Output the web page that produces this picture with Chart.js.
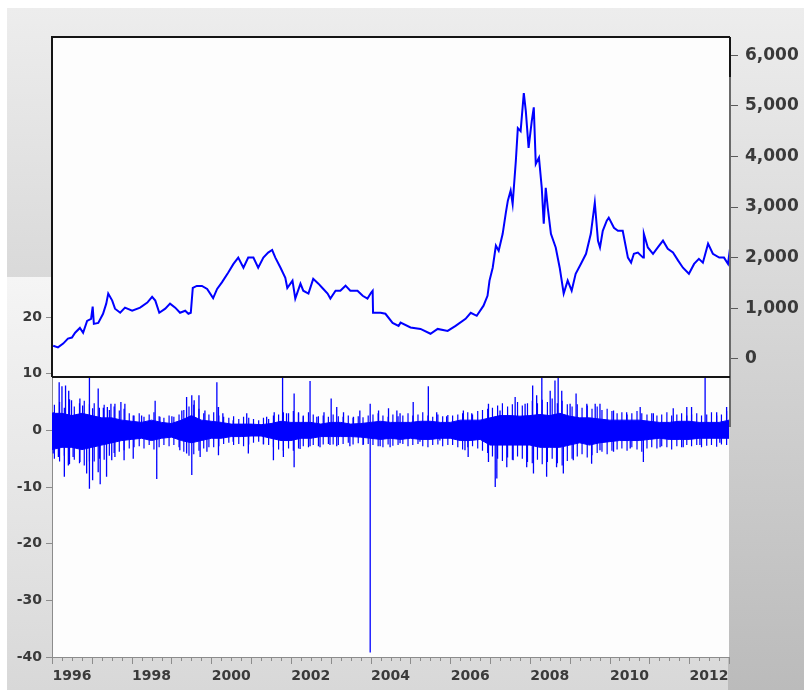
<!DOCTYPE html>
<html lang="en">
<head>
<meta charset="utf-8">
<title>Index level and daily returns</title>
<script src="https://cdn.jsdelivr.net/npm/chart.js@4.4.1/dist/chart.umd.min.js"></script>
<style>
    html, body { margin: 0; padding: 0; background: #ffffff; }
    body { position: relative; width: 804px; height: 690px; overflow: hidden; }
    .frame-back { position: absolute; left: 7px; top: 8px; width: 797px; height: 682px; background: linear-gradient(#ededed, #bbbbbb); }
    .frame-lower { position: absolute; left: 7px; top: 277px; width: 721px; height: 413px; background: linear-gradient(#f5f5f5, #d8d8d8); }
    canvas { position: absolute; }
    #returnsCanvas { left: 7px; top: 277px; }
    #priceCanvas { left: 7px; top: 8px; }
</style>
</head>
<body>
<div class="frame-back"></div>
<div class="frame-lower"></div>
<canvas id="returnsCanvas" width="723" height="413"></canvas>
<canvas id="priceCanvas" width="797" height="422"></canvas>
<script>
// index level (upper panel, right axis)
const priceYears = [
    1996.03, 1996.15, 1996.28, 1996.40, 1996.50, 1996.58, 1996.70, 1996.78, 1996.88, 1996.98,
    1997.02, 1997.05, 1997.16, 1997.28, 1997.36, 1997.41, 1997.51, 1997.58, 1997.71, 1997.83,
    1998.01, 1998.21, 1998.39, 1998.51, 1998.59, 1998.69, 1998.84, 1998.96, 1999.09, 1999.21,
    1999.34, 1999.42, 1999.48, 1999.53, 1999.63, 1999.76, 1999.89, 2000.04, 2000.14, 2000.26,
    2000.42, 2000.55, 2000.67, 2000.80, 2000.92, 2001.05, 2001.17, 2001.30, 2001.42, 2001.52,
    2001.60, 2001.73, 2001.85, 2001.90, 2002.03, 2002.10, 2002.23, 2002.30, 2002.43, 2002.55,
    2002.68, 2002.78, 2002.91, 2002.98, 2003.11, 2003.23, 2003.36, 2003.48, 2003.66, 2003.79,
    2003.91, 2004.00, 2004.04, 2004.05, 2004.24, 2004.36, 2004.54, 2004.69, 2004.74, 2004.99,
    2005.24, 2005.49, 2005.67, 2005.92, 2006.12, 2006.37, 2006.50, 2006.65, 2006.82, 2006.92,
    2006.97, 2007.05, 2007.13, 2007.20, 2007.30, 2007.38, 2007.43, 2007.50, 2007.55, 2007.63,
    2007.68, 2007.75, 2007.83, 2007.88, 2007.95, 2008.03, 2008.08, 2008.13, 2008.21, 2008.28,
    2008.33, 2008.38, 2008.43, 2008.51, 2008.63, 2008.73, 2008.83, 2008.93, 2009.03, 2009.13,
    2009.26, 2009.39, 2009.51, 2009.61, 2009.69, 2009.74, 2009.81, 2009.91, 2009.96, 2010.09,
    2010.19, 2010.31, 2010.44, 2010.52, 2010.59, 2010.69, 2010.82, 2010.84, 2010.94, 2011.07,
    2011.19, 2011.32, 2011.44, 2011.57, 2011.70, 2011.82, 2011.97, 2012.10, 2012.22, 2012.32,
    2012.45, 2012.57, 2012.73, 2012.85, 2012.95, 2013.00
];
const priceValues = [
    257, 225, 300, 400, 420, 515, 610, 515, 750, 790,
    1030, 690, 710, 890, 1090, 1290, 1150, 990, 910, 1010,
    950, 1010, 1110, 1225, 1150, 910, 990, 1090, 1010, 910,
    950, 890, 910, 1400, 1440, 1440, 1380, 1200, 1380, 1510,
    1705, 1875, 2000, 1800, 2000, 2000, 1800, 2000, 2100, 2150,
    2000, 1800, 1600, 1400, 1545, 1190, 1485, 1345, 1290, 1580,
    1485, 1400, 1290, 1190, 1345, 1345, 1445, 1345, 1345, 1245,
    1190, 1305, 1345, 910, 910, 890, 710, 650, 715, 620,
    590, 495, 590, 550, 650, 790, 910, 850, 1050, 1245,
    1545, 1800, 2235, 2135, 2470, 2890, 3125, 3325, 3060, 3910,
    4560, 4500, 5250, 4900, 4170, 4700, 4970, 3850, 3975, 3380,
    2670, 3380, 2990, 2470, 2200, 1800, 1290, 1545, 1345, 1680,
    1875, 2075, 2470, 3085, 2330, 2200, 2530, 2730, 2790, 2590,
    2530, 2530, 2000, 1900, 2075, 2100, 2000, 2470, 2200, 2075,
    2200, 2335, 2175, 2100, 1940, 1800, 1680, 1875, 1975, 1900,
    2275, 2075, 2000, 2000, 1875, 2175
];
const priceTicks = [0, 1000, 2000, 3000, 4000, 5000, 6000];

// daily returns (lower panel, left axis): dense core band per quarter
const bandYears = [
    1996.00, 1996.25, 1996.50, 1996.75, 1997.00, 1997.25, 1997.50, 1997.75,
    1998.00, 1998.25, 1998.50, 1998.75, 1999.00, 1999.25, 1999.50, 1999.75,
    2000.00, 2000.25, 2000.50, 2000.75, 2001.00, 2001.25, 2001.50, 2001.75,
    2002.00, 2002.25, 2002.50, 2002.75, 2003.00, 2003.25, 2003.50, 2003.75,
    2004.00, 2004.25, 2004.50, 2004.75, 2005.00, 2005.25, 2005.50, 2005.75,
    2006.00, 2006.25, 2006.50, 2006.75, 2007.00, 2007.25, 2007.50, 2007.75,
    2008.00, 2008.25, 2008.50, 2008.75, 2009.00, 2009.25, 2009.50, 2009.75,
    2010.00, 2010.25, 2010.50, 2010.75, 2011.00, 2011.25, 2011.50, 2011.75,
    2012.00, 2012.25, 2012.50, 2012.75, 2013.00
];
const bandUpper = [
    3.0, 3.0, 2.6, 3.0, 2.6, 2.2, 2.2, 1.8,
    1.6, 1.4, 1.8, 1.4, 1.2, 1.8, 2.6, 1.8,
    1.6, 1.4, 1.1, 1.1, 1.1, 1.0, 1.2, 1.6,
    1.4, 1.4, 1.4, 1.1, 1.4, 1.4, 1.1, 1.2,
    1.4, 1.6, 1.4, 1.4, 1.4, 1.6, 1.6, 1.4,
    1.4, 1.8, 1.8, 1.8, 2.2, 2.6, 2.6, 2.5,
    2.6, 2.8, 2.6, 3.0, 2.5, 2.2, 2.2, 2.0,
    1.8, 1.8, 1.8, 1.8, 1.6, 1.4, 1.4, 1.6,
    1.6, 1.4, 1.4, 1.4, 1.8
];
const bandLower = [
    -3.4, -3.0, -3.0, -3.4, -3.0, -2.6, -2.2, -1.8,
    -1.6, -1.4, -1.8, -1.4, -1.2, -1.8, -2.2, -1.8,
    -1.4, -1.4, -1.1, -1.1, -1.0, -1.0, -1.4, -1.8,
    -1.8, -1.4, -1.4, -1.1, -1.1, -1.1, -1.1, -1.2,
    -1.4, -1.6, -1.4, -1.6, -1.4, -1.6, -1.6, -1.4,
    -1.4, -1.8, -1.8, -1.6, -2.6, -2.6, -2.6, -2.6,
    -2.6, -3.0, -3.0, -3.0, -2.6, -2.2, -2.6, -2.2,
    -2.0, -1.8, -1.8, -1.8, -1.6, -1.4, -1.6, -1.6,
    -1.6, -1.4, -1.4, -1.4, -1.4
];

// hairy fringe of ordinary days round the band, one mark per eighth of a year
const fringeYears = [
    1996.06, 1996.19, 1996.31, 1996.44, 1996.56, 1996.69, 1996.81, 1996.94,
    1997.06, 1997.19, 1997.31, 1997.44, 1997.56, 1997.69, 1997.81, 1997.94,
    1998.06, 1998.19, 1998.31, 1998.44, 1998.56, 1998.69, 1998.81, 1998.94,
    1999.06, 1999.19, 1999.31, 1999.44, 1999.56, 1999.69, 1999.81, 1999.94,
    2000.06, 2000.19, 2000.31, 2000.44, 2000.56, 2000.69, 2000.81, 2000.94,
    2001.06, 2001.19, 2001.31, 2001.44, 2001.56, 2001.69, 2001.81, 2001.94,
    2002.06, 2002.19, 2002.31, 2002.44, 2002.56, 2002.69, 2002.81, 2002.94,
    2003.06, 2003.19, 2003.31, 2003.44, 2003.56, 2003.69, 2003.81, 2003.94,
    2004.06, 2004.19, 2004.31, 2004.44, 2004.56, 2004.69, 2004.81, 2004.94,
    2005.06, 2005.19, 2005.31, 2005.44, 2005.56, 2005.69, 2005.81, 2005.94,
    2006.06, 2006.19, 2006.31, 2006.44, 2006.56, 2006.69, 2006.81, 2006.94,
    2007.06, 2007.19, 2007.31, 2007.44, 2007.56, 2007.69, 2007.81, 2007.94,
    2008.06, 2008.19, 2008.31, 2008.44, 2008.56, 2008.69, 2008.81, 2008.94,
    2009.06, 2009.19, 2009.31, 2009.44, 2009.56, 2009.69, 2009.81, 2009.94,
    2010.06, 2010.19, 2010.31, 2010.44, 2010.56, 2010.69, 2010.81, 2010.94,
    2011.06, 2011.19, 2011.31, 2011.44, 2011.56, 2011.69, 2011.81, 2011.94,
    2012.06, 2012.19, 2012.31, 2012.44, 2012.56, 2012.69, 2012.81, 2012.94
];
const fringeHigh = [
    4.5, 5.0, 4.0, 5.5, 4.2, 4.8, 5.2, 4.6,
    4.8, 4.0, 4.5, 3.6, 4.2, 3.5, 3.8, 3.0,
    2.6, 3.0, 2.4, 2.8, 3.2, 2.5, 2.2, 2.6,
    2.4, 2.8, 3.6, 4.2, 4.5, 3.8, 3.0, 2.8,
    3.2, 2.6, 2.4, 2.2, 2.5, 2.0, 2.4, 2.2,
    2.0, 1.8, 2.2, 2.0, 2.6, 2.8, 3.2, 3.0,
    3.4, 3.0, 2.6, 3.2, 2.8, 2.5, 2.6, 2.4,
    2.8, 2.5, 2.4, 2.6, 2.2, 2.5, 2.3, 2.6,
    2.8, 3.0, 2.6, 2.4, 2.8, 2.5, 2.6, 3.0,
    2.6, 2.8, 3.2, 2.6, 2.4, 2.8, 2.5, 2.7,
    2.6, 2.8, 3.0, 3.2, 2.8, 3.4, 3.6, 3.8,
    4.0, 4.4, 4.8, 4.2, 4.6, 5.0, 4.4, 4.8,
    5.2, 4.8, 5.4, 5.0, 5.6, 4.8, 5.2, 4.6,
    4.2, 4.6, 4.0, 4.4, 3.8, 4.2, 3.6, 3.8,
    3.4, 3.0, 3.2, 2.8, 3.0, 3.4, 3.0, 2.8,
    3.0, 2.6, 2.8, 3.2, 2.6, 2.8, 3.0, 2.6,
    2.8, 3.0, 2.6, 2.8, 3.2, 2.6, 2.8, 3.4
];
const fringeLow = [
    -5.0, -5.5, -4.5, -6.0, -5.2, -5.8, -6.2, -5.5,
    -5.5, -5.0, -5.2, -4.5, -4.0, -3.8, -3.5, -3.2,
    -3.0, -2.8, -3.2, -2.6, -3.4, -3.0, -2.6, -2.8,
    -2.6, -3.0, -3.8, -4.5, -4.2, -3.6, -3.2, -3.0,
    -3.0, -2.8, -2.4, -2.2, -2.6, -2.4, -2.8, -2.5,
    -2.2, -2.0, -2.4, -2.6, -3.0, -3.4, -3.6, -3.2,
    -3.6, -3.2, -2.8, -3.0, -2.6, -2.8, -2.5, -2.4,
    -2.5, -2.6, -2.4, -2.2, -2.5, -2.3, -2.6, -2.4,
    -2.6, -2.8, -3.0, -2.5, -2.7, -2.6, -2.4, -2.8,
    -2.6, -2.4, -2.8, -3.0, -2.6, -2.5, -2.8, -2.6,
    -2.6, -3.0, -3.4, -3.0, -2.8, -3.2, -3.6, -4.0,
    -4.6, -5.0, -5.4, -4.8, -5.2, -4.6, -5.0, -5.6,
    -5.8, -5.2, -6.0, -5.6, -5.0, -5.8, -6.2, -5.4,
    -5.0, -4.6, -4.2, -4.8, -4.4, -4.0, -3.8, -4.2,
    -3.6, -3.4, -3.2, -3.6, -3.0, -3.4, -3.8, -3.2,
    -3.0, -3.2, -2.8, -3.0, -3.4, -2.8, -3.0, -2.6,
    -2.8, -2.6, -3.0, -2.7, -2.6, -2.9, -2.5, -2.6
];

// single large days sticking out of the band
const upSpikeYears = [
    1996.03, 1996.18, 1996.25, 1996.34, 1996.42, 1996.49, 1996.70, 1996.77, 1996.94, 1997.02,
    1997.16, 1997.29, 1997.39, 1997.48, 1997.58, 1997.73, 1997.83, 1998.04, 1998.25, 1998.59,
    1998.71, 1999.01, 1999.26, 1999.38, 1999.51, 1999.57, 1999.69, 1999.84, 2000.14, 2000.18,
    2000.29, 2000.55, 2000.89, 2001.39, 2001.58, 2001.79, 2001.89, 2002.08, 2002.19, 2002.31,
    2002.48, 2002.65, 2002.83, 2003.01, 2003.15, 2003.32, 2003.57, 2003.73, 2003.99, 2004.20,
    2004.45, 2004.66, 2004.74, 2005.07, 2005.45, 2005.66, 2005.91, 2006.33, 2006.54, 2006.96,
    2007.25, 2007.63, 2007.88, 2008.07, 2008.17, 2008.30, 2008.51, 2008.63, 2008.71, 2008.80,
    2009.01, 2009.16, 2009.43, 2009.64, 2009.76, 2010.10, 2010.43, 2010.77, 2011.10, 2011.60,
    2011.94, 2012.06, 2012.40, 2012.69, 2012.94
];
const upSpikeValues = [
    3.2, 8.5, 7.8, 7.9, 7.0, 5.3, 5.6, 4.4, 9.8, 3.9,
    7.4, 4.0, 4.1, 4.7, 4.7, 5.0, 4.7, 2.6, 2.6, 5.2,
    2.4, 2.5, 3.5, 5.9, 6.2, 5.3, 6.2, 3.5, 8.5, 4.1,
    3.0, 1.8, 3.0, 2.4, 3.2, 9.8, 3.0, 6.5, 3.2, 2.5,
    8.7, 2.4, 3.2, 5.6, 4.1, 3.2, 2.4, 3.5, 4.7, 3.5,
    3.9, 3.5, 3.0, 5.0, 7.8, 3.2, 2.5, 3.5, 3.0, 4.7,
    3.5, 5.9, 4.7, 7.9, 6.2, 9.8, 7.0, 8.8, 9.8, 7.0,
    4.7, 6.5, 4.7, 4.7, 4.7, 3.5, 3.2, 4.1, 3.0, 3.9,
    4.1, 4.1, 9.8, 3.2, 4.1
];
const downSpikeYears = [
    1996.03, 1996.16, 1996.31, 1996.41, 1996.53, 1996.70, 1996.87, 1996.94, 1997.02, 1997.16,
    1997.21, 1997.37, 1997.50, 1997.58, 1997.81, 1998.04, 1998.63, 1999.21, 1999.38, 1999.51,
    1999.72, 1999.89, 2000.18, 2000.55, 2000.93, 2001.31, 2001.56, 2001.81, 2002.08, 2002.23,
    2002.48, 2002.73, 2002.98, 2003.15, 2003.48, 2003.82, 2003.99, 2004.24, 2004.49, 2004.74,
    2005.24, 2005.74, 2006.37, 2006.45, 2006.96, 2007.13, 2007.17, 2007.42, 2007.58, 2007.92,
    2008.09, 2008.42, 2008.67, 2008.84, 2009.09, 2009.55, 2009.76, 2010.10, 2010.52, 2010.85,
    2011.27, 2011.85, 2012.27, 2012.77
];
const downSpikeValues = [
    -4.1, -4.7, -8.2, -6.2, -4.7, -5.6, -7.6, -10.3, -8.8, -7.4,
    -9.5, -8.2, -5.3, -4.7, -5.3, -5.0, -8.6, -3.5, -4.1, -7.9,
    -4.7, -3.8, -4.4, -2.0, -4.1, -2.5, -5.3, -4.7, -6.5, -3.3,
    -2.8, -3.0, -2.6, -2.8, -2.8, -2.5, -39.2, -2.8, -3.0, -2.3,
    -2.0, -1.8, -3.5, -4.7, -5.6, -10.0, -8.5, -6.5, -5.3, -6.5,
    -7.6, -8.2, -6.5, -7.6, -5.3, -5.9, -3.5, -3.8, -3.2, -5.6,
    -3.0, -3.0, -2.6, -2.2
];
const returnTicks = [-40, -30, -20, -10, 0, 10, 20];
const yearLabels = [1996, 1998, 2000, 2002, 2004, 2006, 2008, 2010, 2012];

const firstYear = 1996;
const lastYear = 2013;
const seriesBlue = "#0000ff";
const axisGray = "#8c8c8c";
const labelColor = "#3a3a3a";
const labelFamily = "'DejaVu Sans', 'Liberation Sans', sans-serif";

function toPoints(xs, ys) {
    return xs.map((x, i) => ({ x, y: ys[i] }));
}

// each spike goes out from zero and back again
function toSpikes(xs, ys) {
    const points = [];
    xs.forEach((x, i) => {
        points.push({ x, y: 0 }, { x, y: ys[i] }, { x, y: 0 });
    });
    return points;
}

// vertical stroke from low to high for each fringe day
function toRanges(xs, highs, lows) {
    const points = [];
    xs.forEach((x, i) => {
        points.push({ x, y: 0 }, { x, y: highs[i] }, { x, y: lows[i] }, { x, y: 0 });
    });
    return points;
}

const plotBackground = {
    id: "plotBackground",
    beforeDraw(chart) {
        const a = chart.chartArea;
        const ctx = chart.ctx;
        ctx.save();
        ctx.fillStyle = "#fdfdfd";
        ctx.fillRect(a.left, a.top, a.right - a.left, a.bottom - a.top);
        ctx.restore();
    }
};

// year / quarter marks under the lower panel
const quarterTicks = {
    id: "quarterTicks",
    afterDraw(chart) {
        const scale = chart.scales.x;
        const ctx = chart.ctx;
        const y0 = chart.chartArea.bottom;
        ctx.save();
        ctx.strokeStyle = axisGray;
        ctx.lineWidth = 1;
        ctx.beginPath();
        for (let q = firstYear * 4; q <= lastYear * 4; q++) {
            const x = Math.round(scale.getPixelForValue(q / 4)) + 0.5;
            const len = q % 4 === 0 ? 7 : 4;
            ctx.moveTo(x, y0);
            ctx.lineTo(x, y0 + len);
        }
        ctx.stroke();
        ctx.restore();
    }
};

// dark frame round the upper panel
const priceFrame = {
    id: "priceFrame",
    afterDraw(chart) {
        const a = chart.chartArea;
        const ctx = chart.ctx;
        ctx.save();
        ctx.lineWidth = 2;
        ctx.strokeStyle = "#6a6a6a";
        ctx.beginPath();
        ctx.moveTo(a.right, a.top);
        ctx.lineTo(a.right, a.bottom + 50);
        ctx.stroke();
        ctx.strokeStyle = "#151515";
        ctx.beginPath();
        ctx.moveTo(a.left, a.bottom);
        ctx.lineTo(a.left, a.top);
        ctx.lineTo(a.right, a.top);
        ctx.moveTo(a.left, a.bottom);
        ctx.lineTo(a.right, a.bottom);
        ctx.stroke();
        ctx.beginPath();
        ctx.moveTo(a.right, a.top);
        ctx.lineTo(a.right, a.top + 40);
        ctx.stroke();
        ctx.restore();
    }
};

function createReturnsChart() {
    const canvas = document.getElementById("returnsCanvas");
    return new Chart(canvas, {
        type: "line",
        data: {
            datasets: [
                {
                    data: toPoints(bandYears, bandUpper),
                    borderColor: seriesBlue,
                    borderWidth: 1,
                    fill: false
                },
                {
                    data: toPoints(bandYears, bandLower),
                    borderColor: seriesBlue,
                    backgroundColor: seriesBlue,
                    borderWidth: 1,
                    fill: "-1"
                },
                {
                    data: toRanges(fringeYears, fringeHigh, fringeLow),
                    borderColor: seriesBlue,
                    borderWidth: 1.2,
                    fill: false
                },
                {
                    data: toSpikes(upSpikeYears, upSpikeValues),
                    borderColor: seriesBlue,
                    borderWidth: 1.3,
                    fill: false
                },
                {
                    data: toSpikes(downSpikeYears, downSpikeValues),
                    borderColor: seriesBlue,
                    borderWidth: 1.3,
                    fill: false
                }
            ]
        },
        options: {
            responsive: false,
            animation: false,
            layout: { padding: { left: 0, top: 40, right: 1, bottom: 0 } },
            elements: { point: { radius: 0 }, line: { tension: 0 } },
            scales: {
                x: {
                    type: "linear",
                    min: firstYear,
                    max: lastYear,
                    afterBuildTicks: (scale) => {
                        scale.ticks = yearLabels.map((y) => ({ value: y + 0.5 }));
                    },
                    afterFit: (scale) => { scale.height = 33; },
                    grid: {
                        display: true,
                        drawOnChartArea: false,
                        drawTicks: true,
                        tickLength: 11,
                        tickColor: "rgba(0, 0, 0, 0)"
                    },
                    border: { display: true, color: axisGray, width: 1 },
                    ticks: {
                        autoSkip: false,
                        maxRotation: 0,
                        padding: 0,
                        color: labelColor,
                        font: { family: labelFamily, size: 14, weight: "bold" },
                        callback: (value) => String(Math.floor(value))
                    }
                },
                y: {
                    type: "linear",
                    min: -40,
                    max: 20,
                    afterBuildTicks: (scale) => {
                        scale.ticks = returnTicks.map((v) => ({ value: v }));
                    },
                    afterFit: (scale) => { scale.width = 45; },
                    grid: { drawOnChartArea: false, tickLength: 6, color: axisGray },
                    border: { display: true, color: axisGray, width: 1 },
                    ticks: {
                        padding: 4,
                        color: labelColor,
                        font: { family: labelFamily, size: 14, weight: "bold" }
                    }
                }
            },
            plugins: {
                legend: { display: false },
                tooltip: { enabled: false }
            }
        },
        plugins: [plotBackground, quarterTicks]
    });
}

function createPriceChart() {
    const canvas = document.getElementById("priceCanvas");
    return new Chart(canvas, {
        type: "line",
        data: {
            datasets: [{
                data: toPoints(priceYears, priceValues),
                borderColor: seriesBlue,
                borderWidth: 2,
                fill: false
            }]
        },
        options: {
            responsive: false,
            animation: false,
            layout: { padding: { left: 45, top: 29, right: 0, bottom: 53 } },
            elements: { point: { radius: 0 }, line: { tension: 0 } },
            scales: {
                x: {
                    type: "linear",
                    display: false,
                    min: firstYear,
                    max: lastYear
                },
                y: {
                    type: "linear",
                    position: "right",
                    min: -360,
                    max: 6360,
                    afterBuildTicks: (scale) => {
                        scale.ticks = priceTicks.map((v) => ({ value: v }));
                    },
                    afterFit: (scale) => { scale.width = 74; },
                    grid: { drawOnChartArea: false, tickLength: 8, color: "#5a5a5a" },
                    border: { display: false },
                    ticks: {
                        padding: 7,
                        color: labelColor,
                        font: { family: labelFamily, size: 17, weight: "bold" },
                        callback: (value) => value.toLocaleString("en-US")
                    }
                }
            },
            plugins: {
                legend: { display: false },
                tooltip: { enabled: false }
            }
        },
        plugins: [plotBackground, priceFrame]
    });
}

createReturnsChart();
createPriceChart();
</script>
</body>
</html>
